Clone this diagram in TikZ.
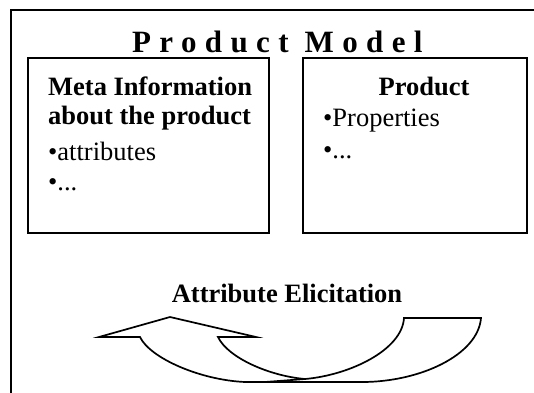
\documentclass[tikz,border=0pt]{standalone}
\usepackage{fontspec}
\setmainfont{Liberation Serif}
\newfontfamily\spacedserif[LetterSpace=27]{Liberation Serif}
\begin{document}
\begin{tikzpicture}[x=1pt,y=-1pt,
  frameline/.style={line width=1.8pt},
  panel/.style={draw,line width=1.6pt,rectangle,inner sep=0pt},
  headtext/.style={inner sep=0pt,font=\fontsize{26.5}{30}\selectfont\bfseries},
  itemtext/.style={inner sep=0pt,font=\fontsize{26.5}{30}\selectfont},
  bandline/.style={line width=1.7pt,line join=miter}
]
\useasboundingbox (0,0) rectangle (534,392);

% open frame round the model, running off the page edges
\draw[frameline] (11,400) -- (11,10) -- (540,10);

% title
\node[inner sep=0pt,anchor=base west,font=\spacedserif\fontsize{31}{34}\selectfont\bfseries]
  (title) at (132,52.5) {Product Model};

% the two panels
\node[panel,minimum width=241pt,minimum height=175pt] (meta) at (148.5,145.5) {};
\node[panel,minimum width=224pt,minimum height=175pt] (prod) at (415,145.5) {};

% meta information panel
\node[headtext,anchor=base west] (metaA) at (48,95) {Meta Information};
\node[headtext,anchor=base west] (metaB) at (48,124) {about the product};
\node[itemtext,anchor=base west] (metaC) at (48,160) {•attributes};
\node[itemtext,anchor=base west] (metaD) at (48,190.5) {•...};

% product panel
\node[headtext,anchor=base] (prodA) at (424,95) {Product};
\node[itemtext,anchor=base west] (prodB) at (323,126.5) {•Properties};
\node[itemtext,anchor=base west] (prodC) at (323,158.5) {•...};

% elicitation label
\node[headtext,anchor=base] (elic) at (287,302) {Attribute Elicitation};

% curved up arrow
\coordinate (ls) at (140,337);
\coordinate (lb) at (99,337);
\coordinate (tip) at (170,317);
\coordinate (rb) at (256,337);
\coordinate (rs) at (218,337);
\coordinate (cusp) at (305,379);
\coordinate (ti) at (404,318);
\coordinate (to) at (481,318);
\coordinate (b2) at (362,382);
\coordinate (b1) at (245,382);
\coordinate (w) at (265,382);

\draw[bandline]
  (ls) -- (lb) -- (tip) -- (rb) -- (rs)
  .. controls (228,358) and (270,376) .. (cusp)
  .. controls (350,375) and (402,350) .. (ti)
  -- (to)
  .. controls (478,355) and (420,382) .. (b2)
  -- (b1)
  .. controls (200,380) and (150,358) .. (ls) -- cycle;
\draw[bandline] (w) -- (cusp);
\end{tikzpicture}
\end{document}
